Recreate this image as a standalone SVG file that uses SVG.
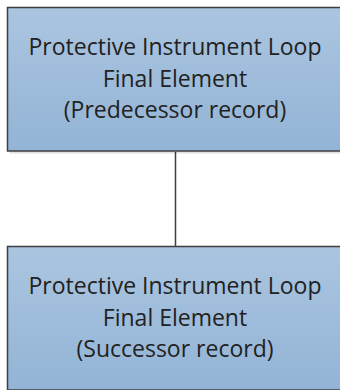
<svg xmlns="http://www.w3.org/2000/svg" width="340" height="390" viewBox="0 0 340 390">
<defs>
<linearGradient id="fill" x1="0" y1="0" x2="0" y2="1">
<stop offset="0" stop-color="#aac5e0"/>
<stop offset="1" stop-color="#93b4d6"/>
</linearGradient>
<style>
.box{fill:url(#fill);stroke:#3f3f3f;stroke-width:1.5}
.shadow{fill:#000;fill-opacity:0.12}
.lbl{font-family:"Open Sans","Noto Sans",sans-serif;font-size:23px;fill:#222;text-anchor:middle}
.conn{stroke:#3f3f3f;stroke-width:1.5;fill:none}
</style>
</defs>
<g id="connectors">
<line class="conn" x1="175.5" y1="152" x2="175.5" y2="247"/>
</g>
<g id="predecessor">
<rect class="shadow" x="9.5" y="10" width="334" height="143.5"/>
<rect class="box" x="7.5" y="7.5" width="334" height="143.5"/>
<text class="lbl" x="175" y="55">Protective Instrument Loop</text>
<text class="lbl" x="175" y="87">Final Element</text>
<text class="lbl" x="175" y="118">(Predecessor record)</text>
</g>
<g id="successor">
<rect class="shadow" x="9.5" y="249" width="334" height="143.5"/>
<rect class="box" x="7.5" y="246.5" width="334" height="143.5"/>
<text class="lbl" x="175" y="294">Protective Instrument Loop</text>
<text class="lbl" x="175" y="326">Final Element</text>
<text class="lbl" x="175" y="357">(Successor record)</text>
</g>
</svg>
